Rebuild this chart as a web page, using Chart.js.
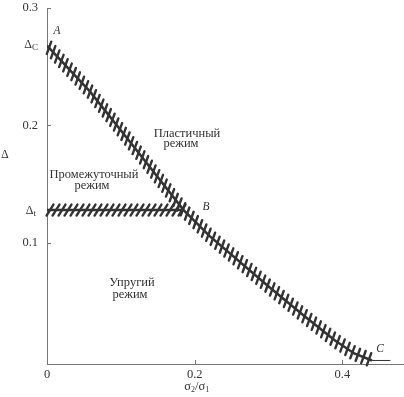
<!DOCTYPE html>
<html>
<head>
<meta charset="utf-8">
<script src="https://cdn.jsdelivr.net/npm/chart.js@4.4.0/dist/chart.umd.min.js"></script>
<style>
  html, body { margin: 0; padding: 0; background: #fff; }
  #wrap { width: 404px; height: 397px; }
</style>
</head>
<body>
<div id="wrap"><canvas id="chart"></canvas></div>
<script>
// Boundary between plastic and elastic regimes (A -> B -> C)
const mainX = [0, 0.058, 0.12, 0.185, 0.22, 0.30, 0.35, 0.39, 0.416, 0.44];
const mainY = [0.268, 0.229, 0.180, 0.128, 0.106, 0.063, 0.037, 0.017, 0.006, 0.0];
// Horizontal boundary at Delta_t (intermediate regime)
const deltaC = 0.268;
const deltaT = 0.128;
const bandX = [0, 0.185];
const bandY = [deltaT, deltaT];
// short flat tail after C
const tailX = [0.44, 0.465];
const tailY = [0, 0];

const xTicks = [0, 0.2, 0.4];
const yTicks = [0.1, 0.2, 0.3];

const serif = '"Liberation Serif", "DejaVu Serif", serif';
const ink = '#333';

function toPoints(xs, ys) {
    return xs.map((x, i) => ({ x: x, y: ys[i] }));
}

// draws the short cross strokes along a dataset's line
const hatchPlugin = {
    id: 'hatch',
    afterDatasetsDraw(chart) {
        const ctx = chart.ctx;
        chart.data.datasets.forEach((ds, i) => {
            if (!ds.hatchAngle) return;
            const pts = chart.getDatasetMeta(i).data;
            const ang = ds.hatchAngle * Math.PI / 180;
            const dx = Math.cos(ang) * ds.hatchHalf;
            const dy = -Math.sin(ang) * ds.hatchHalf;
            ctx.save();
            ctx.strokeStyle = ink;
            ctx.lineWidth = 2.4;
            ctx.lineCap = 'round';
            let carry = ds.hatchStep / 2;
            for (let k = 0; k < pts.length - 1; k++) {
                const p = pts[k], q = pts[k + 1];
                const len = Math.hypot(q.x - p.x, q.y - p.y);
                let d = carry;
                while (d <= len) {
                    const t = d / len;
                    const cx = p.x + (q.x - p.x) * t;
                    const cy = p.y + (q.y - p.y) * t;
                    ctx.beginPath();
                    ctx.moveTo(cx - dx, cy - dy);
                    ctx.lineTo(cx + dx, cy + dy);
                    ctx.stroke();
                    d += ds.hatchStep;
                }
                carry = d - len;
            }
            ctx.restore();
        });
    }
};

// inner ticks, subscripted labels and region captions
const textPlugin = {
    id: 'texts',
    afterDraw(chart) {
        const ctx = chart.ctx;
        const xs = chart.scales.x, ys = chart.scales.y;
        const area = chart.chartArea;
        ctx.save();
        ctx.strokeStyle = '#777';
        ctx.lineWidth = 1;
        yTicks.forEach(v => {
            const py = Math.round(ys.getPixelForValue(v)) + 0.5;
            ctx.beginPath();
            ctx.moveTo(area.left, py);
            ctx.lineTo(area.left + 4, py);
            ctx.stroke();
        });
        xTicks.slice(1).forEach(v => {
            const px = Math.round(xs.getPixelForValue(v)) + 0.5;
            ctx.beginPath();
            ctx.moveTo(px, area.bottom);
            ctx.lineTo(px, area.bottom - 4);
            ctx.stroke();
        });

        ctx.fillStyle = ink;
        ctx.textBaseline = 'middle';

        function sub(main, small, right, y) {
            ctx.font = '12px ' + serif;
            ctx.textAlign = 'left';
            const w1 = ctx.measureText(main).width;
            ctx.font = '9px ' + serif;
            const w2 = ctx.measureText(small).width;
            const left = right - w1 - w2;
            ctx.font = '12px ' + serif;
            ctx.fillText(main, left, y);
            ctx.font = '9px ' + serif;
            ctx.fillText(small, left + w1, y + 3);
        }
        sub('\u0394', 'C', 38, ys.getPixelForValue(deltaC) - 1);
        sub('\u0394', 't', 36, ys.getPixelForValue(deltaT) + 1);

        // axis title
        ctx.font = '12px ' + serif;
        ctx.textAlign = 'left';
        ctx.fillText('\u0394', 1, 155);

        // x axis title with subscripts
        ctx.textAlign = 'left';
        const cx = xs.getPixelForValue(0.2) + 2;
        const parts = [['\u03c3', 12.5, 0], ['2', 8, 3], ['/\u03c3', 12.5, 0], ['1', 8, 3]];
        let total = 0;
        parts.forEach(p => { ctx.font = p[1] + 'px ' + serif; total += ctx.measureText(p[0]).width; });
        let x0 = cx - total / 2;
        parts.forEach(p => {
            ctx.font = p[1] + 'px ' + serif;
            ctx.fillText(p[0], x0, 387 + p[2]);
            x0 += ctx.measureText(p[0]).width;
        });

        // point labels
        ctx.font = 'italic 11.5px ' + serif;
        ctx.textAlign = 'center';
        ctx.fillText('A', 57, 31);
        ctx.fillText('B', 206, 207);
        ctx.fillText('C', 380, 349);

        // region captions
        ctx.font = '12.5px ' + serif;
        ctx.fillText('\u041f\u043b\u0430\u0441\u0442\u0438\u0447\u043d\u044b\u0439', 187, 134);
        ctx.fillText('\u0440\u0435\u0436\u0438\u043c', 181, 144);
        ctx.fillText('\u041f\u0440\u043e\u043c\u0435\u0436\u0443\u0442\u043e\u0447\u043d\u044b\u0439', 94, 175);
        ctx.fillText('\u0440\u0435\u0436\u0438\u043c', 92, 186);
        ctx.fillText('\u0423\u043f\u0440\u0443\u0433\u0438\u0439', 132, 283);
        ctx.fillText('\u0440\u0435\u0436\u0438\u043c', 130, 295);
        ctx.restore();
    }
};

const lineStyle = {
    showLine: true,
    borderColor: ink,
    borderWidth: 2.5,
    pointRadius: 0,
    tension: 0,
    fill: false
};

new Chart(document.getElementById('chart'), {
    type: 'scatter',
    data: {
        datasets: [
            Object.assign({ data: toPoints(mainX, mainY), hatchAngle: 70, hatchHalf: 6.5, hatchStep: 6 }, lineStyle),
            Object.assign({ data: toPoints(bandX, bandY), hatchAngle: 58, hatchHalf: 6.5, hatchStep: 6 }, lineStyle),
            Object.assign({}, lineStyle, { data: toPoints(tailX, tailY), borderWidth: 1 })
        ]
    },
    options: {
        responsive: true,
        maintainAspectRatio: false,
        animation: false,
        layout: { padding: { top: 8, right: 1, left: 0, bottom: 0 } },
        plugins: { legend: { display: false }, tooltip: { enabled: false } },
        scales: {
            x: {
                type: 'linear',
                min: 0,
                max: 0.482,
                afterBuildTicks: s => { s.ticks = xTicks.map(v => ({ value: v })); },
                afterFit: s => { s.height = 33; s.paddingLeft = 0; s.paddingRight = 0; },
                border: { display: true, color: '#777', width: 1 },
                grid: { display: false, drawTicks: false },
                ticks: {
                    padding: 3,
                    color: ink,
                    font: { family: serif, size: 12.5 },
                    callback: v => v === 0 ? '0' : String(v)
                }
            },
            y: {
                type: 'linear',
                min: -0.003,
                max: 0.3,
                afterBuildTicks: s => { s.ticks = yTicks.map(v => ({ value: v })); },
                afterFit: s => { s.width = 47; s.paddingTop = 0; s.paddingBottom = 0; },
                border: { display: true, color: '#777', width: 1 },
                grid: { display: false, drawTicks: false },
                ticks: {
                    padding: 9,
                    color: ink,
                    font: { family: serif, size: 12.5 },
                    callback: v => String(v)
                }
            }
        }
    },
    plugins: [hatchPlugin, textPlugin]
});
</script>
</body>
</html>
